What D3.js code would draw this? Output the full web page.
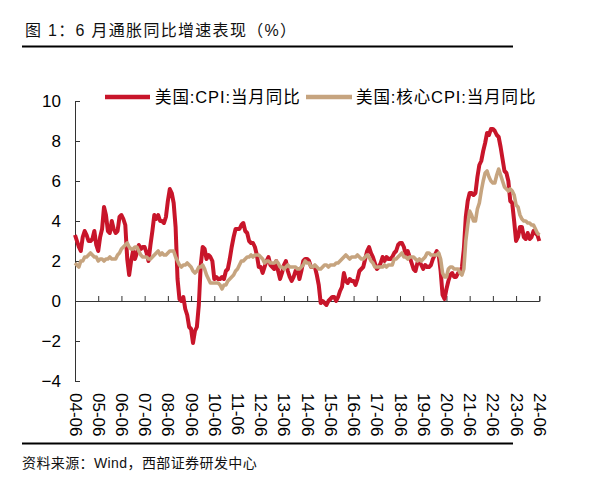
<!DOCTYPE html>
<html><head><meta charset="utf-8">
<script src="https://cdn.jsdelivr.net/npm/d3@7"></script>
<style>body{margin:0;background:#fff} svg{display:block}</style>
</head><body>
<svg id="c" width="607" height="479"></svg>
<script>
// Monthly data, 2004-06 .. 2024-06
const startYear = 2004, startMonth = 6;
const cpi = [
 3.3, 3.0, 2.7, 2.5, 3.2, 3.5, 3.3,
 3.0, 3.0, 3.1, 3.5, 2.8, 2.5, 3.2, 3.6, 4.7, 4.3, 3.5, 3.4,
 4.0, 3.6, 3.4, 3.5, 4.2, 4.3, 4.1, 3.8, 2.1, 1.3, 2.0, 2.5,
 2.1, 2.4, 2.8, 2.6, 2.7, 2.7, 2.4, 2.0, 2.8, 3.5, 4.3, 4.1,
 4.3, 4.0, 4.0, 3.9, 4.2, 5.0, 5.6, 5.4, 4.9, 3.7, 1.1, 0.1,
 0.0, 0.2, -0.4, -0.7, -1.3, -1.4, -2.1, -1.5, -1.3, -0.2, 1.8, 2.7,
 2.6, 2.1, 2.3, 2.2, 2.0, 1.1, 1.2, 1.1, 1.1, 1.2, 1.1, 1.5,
 1.6, 2.1, 2.7, 3.2, 3.6, 3.6, 3.6, 3.8, 3.9, 3.5, 3.4, 3.0,
 2.9, 2.9, 2.7, 2.3, 1.7, 1.7, 1.4, 1.7, 2.0, 2.2, 1.8, 1.7,
 1.6, 2.0, 1.5, 1.1, 1.4, 1.8, 2.0, 1.5, 1.2, 1.0, 1.2, 1.5,
 1.6, 1.1, 1.5, 2.0, 2.1, 2.1, 2.0, 1.7, 1.7, 1.7, 1.3, 0.8,
 -0.1, 0.0, -0.1, -0.2, 0.0, 0.1, 0.2, 0.2, 0.0, 0.2, 0.5, 0.7,
 1.4, 1.0, 0.9, 1.1, 1.0, 1.0, 0.8, 1.1, 1.5, 1.6, 1.7, 2.1,
 2.5, 2.7, 2.4, 2.2, 1.9, 1.6, 1.7, 1.9, 2.2, 2.0, 2.2, 2.1,
 2.1, 2.2, 2.4, 2.5, 2.8, 2.9, 2.9, 2.7, 2.3, 2.5, 2.2, 1.9,
 1.6, 1.5, 1.9, 2.0, 1.8, 1.6, 1.8, 1.7, 1.7, 1.8, 2.1, 2.3,
 2.5, 2.3, 1.5, 0.3, 0.1, 0.6, 1.0, 1.3, 1.4, 1.2, 1.2, 1.4,
 1.4, 1.7, 2.6, 4.2, 5.0, 5.4, 5.4, 5.3, 5.4, 6.2, 6.8, 7.0,
 7.5, 7.9, 8.4, 8.3, 8.6, 8.6, 8.5, 8.3, 8.2, 7.7, 7.1, 6.5,
 6.4, 6.0, 5.0, 4.9, 4.0, 3.0, 3.2, 3.7, 3.7, 3.2, 3.1, 3.4,
 3.1, 3.2, 3.5, 3.4, 3.3, 3.0
];
const coreCpi = [
 1.9, 1.8, 1.7, 2.0, 2.0, 2.2, 2.2,
 2.3, 2.4, 2.3, 2.2, 2.2, 2.0, 2.1, 2.1, 2.0, 2.1, 2.1, 2.2,
 2.1, 2.1, 2.1, 2.3, 2.4, 2.6, 2.7, 2.8, 2.9, 2.7, 2.6, 2.6,
 2.7, 2.7, 2.5, 2.3, 2.2, 2.2, 2.2, 2.1, 2.1, 2.2, 2.3, 2.4,
 2.5, 2.3, 2.4, 2.3, 2.3, 2.4, 2.5, 2.5, 2.5, 2.2, 2.0, 1.8,
 1.7, 1.8, 1.8, 1.9, 1.8, 1.7, 1.5, 1.4, 1.5, 1.7, 1.7, 1.8,
 1.6, 1.3, 1.1, 0.9, 0.9, 0.9, 0.9, 0.9, 0.8, 0.6, 0.8, 0.8,
 1.0, 1.1, 1.2, 1.3, 1.5, 1.6, 1.8, 2.0, 2.0, 2.1, 2.2, 2.2,
 2.3, 2.2, 2.3, 2.3, 2.3, 2.2, 2.1, 1.9, 2.0, 2.0, 1.9, 1.9,
 1.9, 2.0, 1.9, 1.7, 1.7, 1.6, 1.7, 1.8, 1.7, 1.7, 1.7, 1.7,
 1.6, 1.6, 1.7, 1.8, 2.0, 1.9, 1.9, 1.7, 1.7, 1.8, 1.7, 1.6,
 1.6, 1.7, 1.8, 1.8, 1.7, 1.8, 1.8, 1.8, 1.9, 1.9, 2.0, 2.1,
 2.2, 2.3, 2.2, 2.1, 2.2, 2.2, 2.2, 2.3, 2.2, 2.1, 2.1, 2.2,
 2.3, 2.2, 2.0, 1.9, 1.7, 1.7, 1.7, 1.7, 1.7, 1.8, 1.7, 1.8,
 1.8, 1.8, 2.1, 2.1, 2.2, 2.3, 2.4, 2.2, 2.2, 2.1, 2.2, 2.2,
 2.2, 2.1, 2.0, 2.1, 2.0, 2.1, 2.2, 2.4, 2.4, 2.3, 2.3, 2.3,
 2.3, 2.4, 2.1, 1.4, 1.2, 1.2, 1.6, 1.7, 1.7, 1.6, 1.6, 1.6,
 1.4, 1.3, 1.6, 3.0, 3.8, 4.5, 4.3, 4.0, 4.0, 4.6, 4.9, 5.5,
 6.0, 6.4, 6.5, 6.2, 6.0, 5.9, 5.9, 6.3, 6.6, 6.3, 6.0, 5.7,
 5.6, 5.5, 5.6, 5.5, 5.3, 4.8, 4.7, 4.3, 4.1, 4.0, 4.0, 3.9,
 3.9, 3.8, 3.8, 3.6, 3.4, 3.3
];
const yTicks = [-4, -2, 0, 2, 4, 6, 8, 10];
const xTickLabels = ["04-06","05-06","06-06","07-06","08-06","09-06","10-06","11-06","12-06","13-06","14-06","15-06","16-06","17-06","18-06","19-06","20-06","21-06","22-06","23-06","24-06"];
const seriesNames = ["美国:CPI:当月同比", "美国:核心CPI:当月同比"];
const titleText = "图 1：6 月通胀同比增速表现（%）";
const sourceText = "资料来源：Wind，西部证券研发中心";

const colors = ["#C8152A", "#C6A47F"];
const FONT = "'Liberation Sans', Arial, 'Noto Sans CJK SC', sans-serif";
const svg = d3.select("#c").style("font-family", FONT);

// title & rules
svg.append("text").attr("x", 25).attr("y", 36).attr("font-size", 16).attr("letter-spacing", 1.3).attr("fill", "#111").text(titleText);
svg.append("rect").attr("x", 22).attr("y", 45.5).attr("width", 491).attr("height", 2).attr("fill", "#000");
svg.append("rect").attr("x", 22).attr("y", 442.5).attr("width", 491).attr("height", 2).attr("fill", "#000");
svg.append("text").attr("x", 22).attr("y", 468).attr("font-size", 14).attr("letter-spacing", 0.4).attr("fill", "#111").text(sourceText);

const x = d3.scaleLinear().domain([0, 240]).range([75, 539.3]);
const y = d3.scaleLinear().domain([-4, 10]).range([381, 101]);

// y axis
const yAxis = d3.axisLeft(y).tickValues(yTicks).tickSize(-5).tickPadding(14).tickFormat(d3.format("d"));
const gy = svg.append("g").attr("transform", "translate(75,0)").call(yAxis);
gy.select(".domain").attr("stroke", "#333");
gy.selectAll(".tick line").attr("stroke", "#333");
gy.selectAll(".tick text").attr("font-size", 17).attr("font-family", FONT).attr("fill", "#000");

// x axis at y=0
const xTickIdx = xTickLabels.map((d, i) => i * 12);
const xAxis = d3.axisBottom(x).tickValues(xTickIdx).tickSize(-5).tickFormat((d, i) => xTickLabels[i]);
const gx = svg.append("g").attr("transform", `translate(0,${y(0)})`).call(xAxis);
gx.select(".domain").attr("stroke", "#333");
gx.selectAll(".tick line").attr("stroke", "#333");
gx.selectAll(".tick text")
  .attr("font-size", 17).attr("font-family", FONT).attr("fill", "#000")
  .attr("text-anchor", "start")
  .attr("transform", `translate(0,${393 - y(0)}) rotate(90)`)
  .attr("x", 0).attr("y", 0).attr("dy", "0.35em");

// lines
const line = d3.line().x((d, i) => x(i)).y(d => y(d)).curve(d3.curveLinear);
svg.append("path").datum(cpi).attr("d", line).attr("fill", "none")
  .attr("stroke", colors[0]).attr("stroke-width", 4).attr("stroke-linejoin", "round");
svg.append("path").datum(coreCpi).attr("d", line).attr("fill", "none")
  .attr("stroke", colors[1]).attr("stroke-width", 3.6).attr("stroke-linejoin", "round");

// legend
const legendItems = [{x1: 105, x2: 150, tx: 155}, {x1: 306, x2: 352, tx: 356}];
legendItems.forEach((it, i) => {
  svg.append("line").attr("x1", it.x1).attr("x2", it.x2).attr("y1", 97).attr("y2", 97)
    .attr("stroke", colors[i]).attr("stroke-width", 4.5);
  svg.append("text").attr("x", it.tx).attr("y", 103).attr("font-size", 16.5).attr("letter-spacing", 0.9).attr("fill", "#000")
    .text(seriesNames[i]);
});
</script>
</body></html>
